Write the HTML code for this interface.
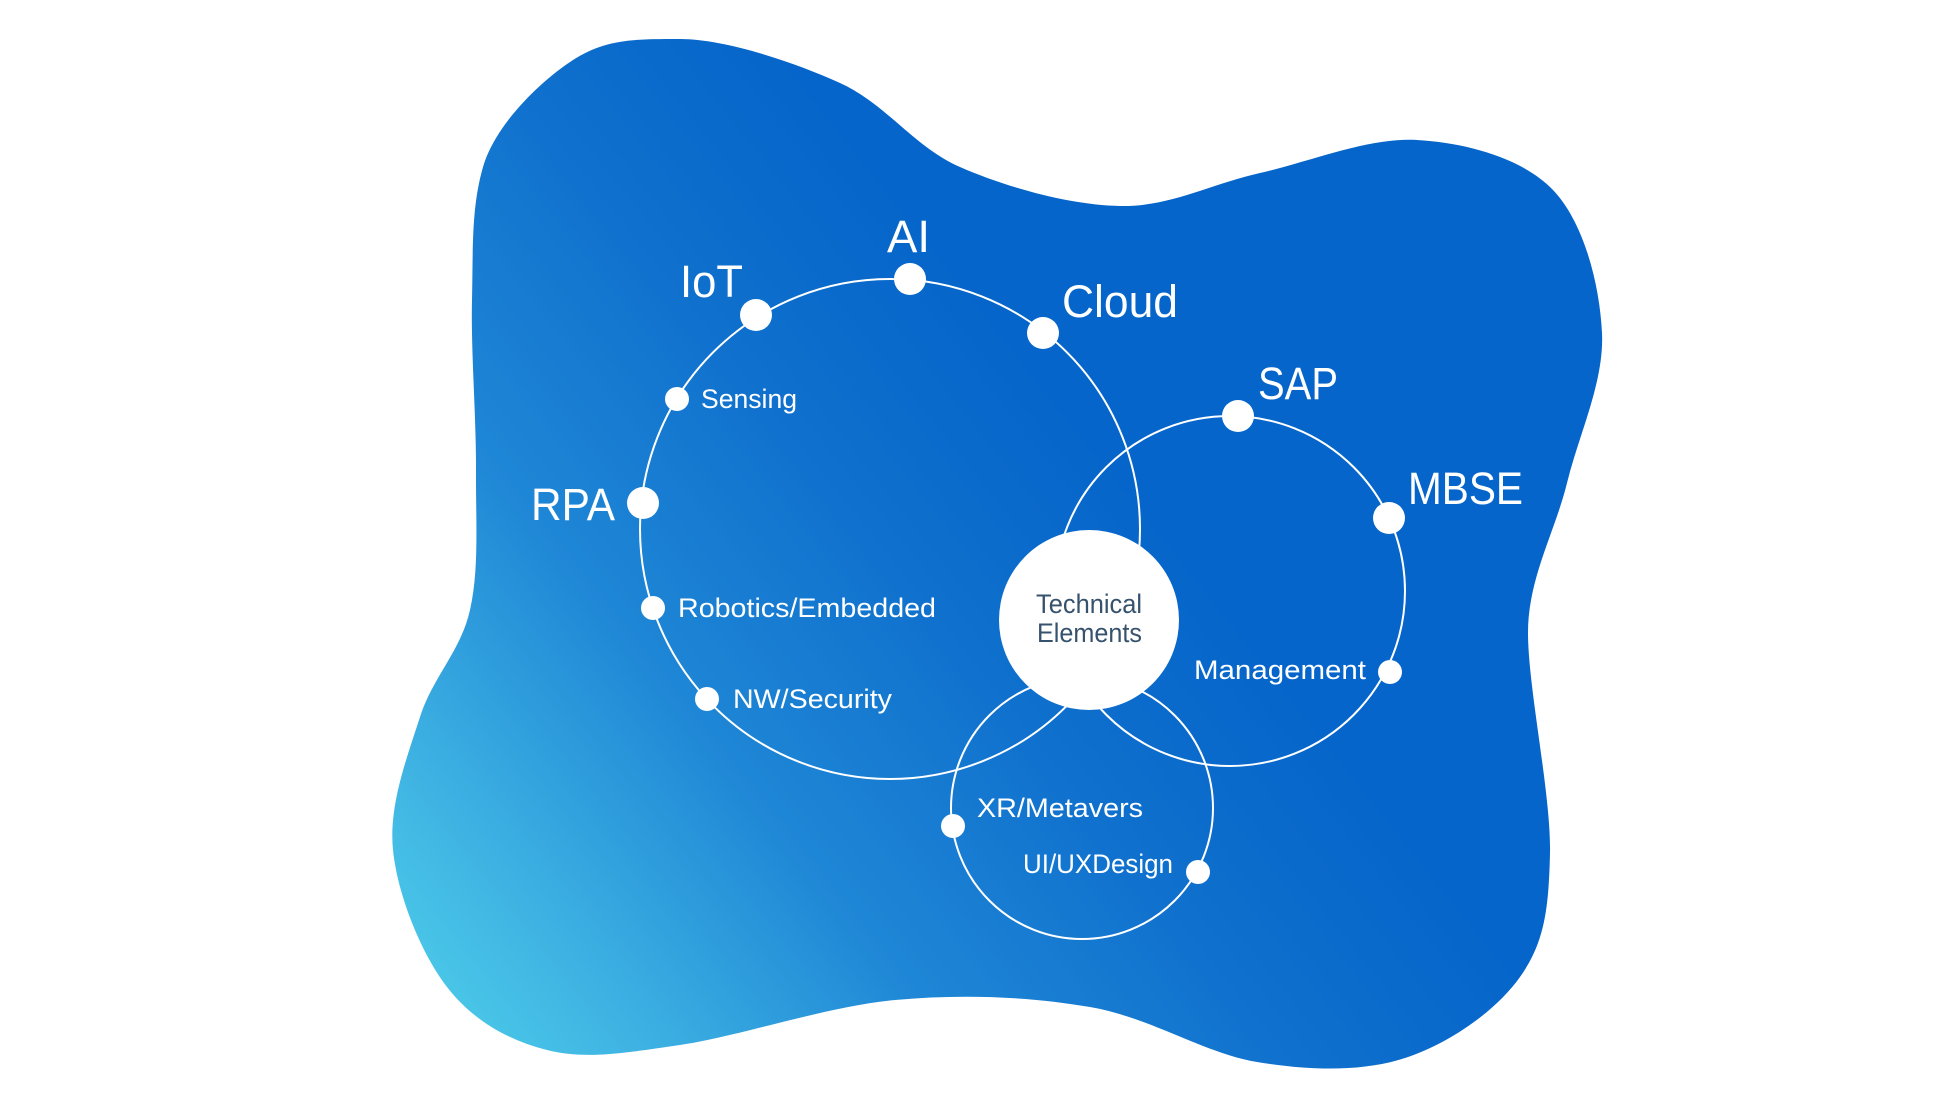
<!DOCTYPE html>
<html>
<head>
<meta charset="utf-8">
<style>
  html, body { margin: 0; padding: 0; background: #ffffff; }
  body { width: 1952px; height: 1098px; overflow: hidden; }
  svg { display: block; }
  text { font-family: "Liberation Sans", "DejaVu Sans", sans-serif; }
</style>
</head>
<body>
<svg width="1952" height="1098" viewBox="0 0 1952 1098" xmlns="http://www.w3.org/2000/svg">
  <defs>
    <linearGradient id="bg" gradientUnits="userSpaceOnUse" x1="410" y1="1000" x2="1100" y2="450">
      <stop offset="0" stop-color="#4ccbe9"/>
      <stop offset="0.16" stop-color="#3fb4e3"/>
      <stop offset="0.45" stop-color="#1f87d6"/>
      <stop offset="0.75" stop-color="#0f70cd"/>
      <stop offset="1" stop-color="#0665ca"/>
    </linearGradient>
  </defs>

  <!-- blob -->
  <path fill="url(#bg)" d="M 680,39
    C 724.5,39 793.3,61.7 840,83
    C 886.7,104.3 913.3,146.5 960,167
    C 1006.7,187.5 1070,205 1120,206
    C 1170,207 1210.5,184 1260,173
    C 1309.5,162 1368.2,137.2 1417,140
    C 1465.8,142.8 1522.2,157.8 1553,190
    C 1583.8,222.2 1599.7,284.2 1602,333
    C 1604.3,381.8 1579.3,433 1567,483
    C 1554.7,533 1528,578 1528,633
    C 1528,688 1551.3,795.7 1550,853
    C 1548.7,910.3 1544.2,942.8 1520,977
    C 1495.8,1011.2 1448.8,1043.8 1405,1058
    C 1361.2,1072.2 1309.5,1070.5 1257,1062
    C 1204.5,1053.5 1150.3,1017.3 1090,1007
    C 1029.7,996.7 963.3,993.7 895,1000
    C 826.7,1006.3 738,1036.7 680,1045
    C 622,1053.3 585.8,1059.7 547,1050
    C 508.2,1040.3 472.7,1020.3 447,987
    C 421.3,953.7 397.5,895 393,850
    C 388.5,805 407.2,757 420,717
    C 432.8,677 460.7,651.2 470,610
    C 479.3,568.8 475.7,521.7 476,470
    C 476.3,418.3 470.8,350.5 472,300
    C 473.2,249.5 471,209 483,167
    C 495,125 540.2,81.3 573,60
    C 605.8,38.7 635.5,39 680,39 Z"/>

  <!-- ring circles -->
  <g fill="none" stroke="#ffffff" stroke-width="2">
    <circle cx="890" cy="529" r="250"/>
    <circle cx="1230" cy="591" r="175"/>
    <circle cx="1082" cy="808" r="131"/>
  </g>

  <!-- central circle -->
  <circle cx="1089" cy="620" r="90" fill="#ffffff"/>

  <!-- dots -->
  <g fill="#ffffff">
    <circle cx="756" cy="315" r="16"/>
    <circle cx="910" cy="279" r="16"/>
    <circle cx="1043" cy="333" r="16"/>
    <circle cx="643" cy="503" r="16"/>
    <circle cx="1238" cy="416" r="16"/>
    <circle cx="1389" cy="518" r="16"/>
    <circle cx="677" cy="399" r="12"/>
    <circle cx="653" cy="608" r="12"/>
    <circle cx="707" cy="699" r="12"/>
    <circle cx="953" cy="826" r="12"/>
    <circle cx="1198" cy="872" r="12"/>
    <circle cx="1390" cy="672" r="12"/>
  </g>

  <!-- large labels -->
  <g fill="#ffffff" font-size="45">
    <text x="680" y="297" textLength="63" lengthAdjust="spacingAndGlyphs">IoT</text>
    <text x="887" y="252" textLength="43" lengthAdjust="spacingAndGlyphs">AI</text>
    <text x="1062" y="317" textLength="116" lengthAdjust="spacingAndGlyphs">Cloud</text>
    <text x="1258" y="399" textLength="80" lengthAdjust="spacingAndGlyphs">SAP</text>
    <text x="1408" y="504" textLength="115" lengthAdjust="spacingAndGlyphs">MBSE</text>
    <text x="531" y="520" textLength="84" lengthAdjust="spacingAndGlyphs">RPA</text>
  </g>

  <!-- small labels -->
  <g fill="#ffffff" font-size="27">
    <text x="701" y="408" textLength="96" lengthAdjust="spacingAndGlyphs">Sensing</text>
    <text x="678" y="617" textLength="258" lengthAdjust="spacingAndGlyphs">Robotics/Embedded</text>
    <text x="733" y="708" textLength="159" lengthAdjust="spacingAndGlyphs">NW/Security</text>
    <text x="977" y="817" textLength="166" lengthAdjust="spacingAndGlyphs">XR/Metavers</text>
    <text x="1023" y="873" textLength="150" lengthAdjust="spacingAndGlyphs">UI/UXDesign</text>
    <text x="1194" y="679" textLength="172" lengthAdjust="spacingAndGlyphs">Management</text>
  </g>

  <!-- center labels -->
  <g fill="#36526d" font-size="27">
    <text x="1036" y="613" textLength="106" lengthAdjust="spacingAndGlyphs">Technical</text>
    <text x="1037" y="642" textLength="105" lengthAdjust="spacingAndGlyphs">Elements</text>
  </g>
</svg>
</body>
</html>
